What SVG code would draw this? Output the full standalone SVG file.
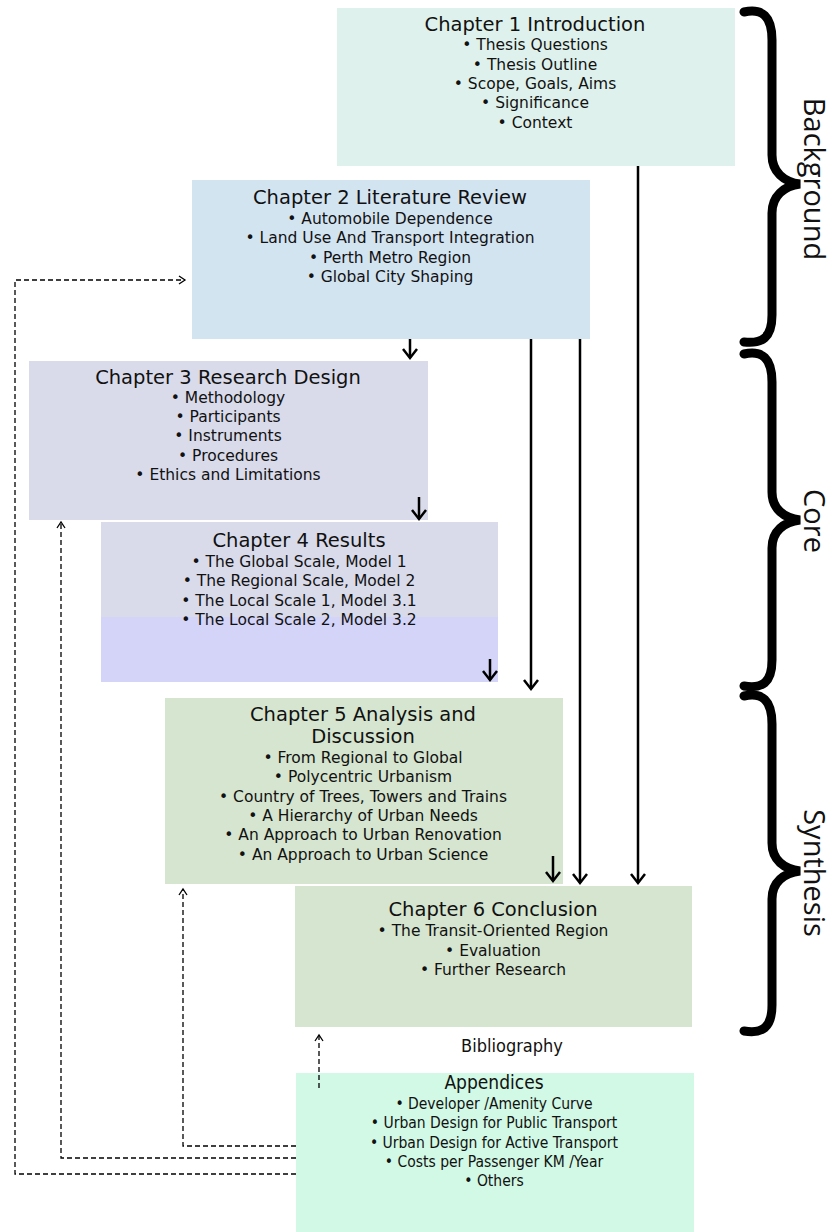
<svg xmlns="http://www.w3.org/2000/svg" width="836" height="1232" viewBox="0 0 836 1232">
<style>
.t{font-family:"DejaVu Sans",Verdana,sans-serif;font-size:19.5px;fill:#111;text-anchor:middle}
.i{font-family:"DejaVu Sans",Verdana,sans-serif;font-size:15.5px;fill:#111;text-anchor:middle}
.c{font-family:"DejaVu Sans Condensed","DejaVu Sans",sans-serif;fill:#111;text-anchor:middle}
.lbl{font-family:"Open Sans","Liberation Sans",sans-serif;font-size:29px;fill:#111;text-anchor:middle}
.solid{stroke:#000;stroke-width:2.5;fill:none}
.dash{stroke:#000;stroke-width:1.3;fill:none;stroke-dasharray:5 3}
.brace{stroke:#000;stroke-width:9;fill:none;stroke-linecap:round}
</style>
<defs>
<marker id="ah" markerUnits="userSpaceOnUse" markerWidth="20" markerHeight="20" refX="10" refY="8" orient="auto" viewBox="0 0 20 16">
<path d="M1,1 L10,8 L1,15" fill="none" stroke="#000" stroke-width="2.5"/>
</marker>
<marker id="dh" markerUnits="userSpaceOnUse" markerWidth="12" markerHeight="12" refX="7" refY="5" orient="auto" viewBox="0 0 12 10">
<path d="M1,1 L7,5 L1,9" fill="none" stroke="#000" stroke-width="1.3"/>
</marker>
</defs>
<rect width="836" height="1232" fill="#fff"/>

<g id="ch1">
<rect x="337" y="8" width="398" height="158" fill="#dff1ec"/>
<text class="t" x="535" y="31">Chapter 1 Introduction</text>
<text class="i" x="535" y="50">• Thesis Questions</text>
<text class="i" x="535" y="70">• Thesis Outline</text>
<text class="i" x="535" y="89">• Scope, Goals, Aims</text>
<text class="i" x="535" y="108">• Significance</text>
<text class="i" x="535" y="128">• Context</text>
</g>

<g id="ch2">
<rect x="192" y="180" width="398" height="159" fill="#d3e4f1"/>
<text class="t" x="390" y="204">Chapter 2 Literature Review</text>
<text class="i" x="390" y="224">• Automobile Dependence</text>
<text class="i" x="390" y="243">• Land Use And Transport Integration</text>
<text class="i" x="390" y="263">• Perth Metro Region</text>
<text class="i" x="390" y="282">• Global City Shaping</text>
</g>

<g id="ch3">
<rect x="29" y="361" width="399" height="159" fill="#d9dbeb"/>
<text class="t" x="228" y="384">Chapter 3 Research Design</text>
<text class="i" x="228" y="403">• Methodology</text>
<text class="i" x="228" y="422">• Participants</text>
<text class="i" x="228" y="441">• Instruments</text>
<text class="i" x="228" y="461">• Procedures</text>
<text class="i" x="228" y="480">• Ethics and Limitations</text>
</g>

<g id="ch4">
<rect x="101" y="522" width="397" height="95" fill="#d9dbeb"/>
<rect x="101" y="617" width="397" height="65" fill="#d3d4f8"/>
<text class="t" x="299" y="547">Chapter 4 Results</text>
<text class="i" x="299" y="567">• The Global Scale, Model 1</text>
<text class="i" x="299" y="586">• The Regional Scale, Model 2</text>
<text class="i" x="299" y="606">• The Local Scale 1, Model 3.1</text>
<text class="i" x="299" y="625">• The Local Scale 2, Model 3.2</text>
</g>

<g id="ch5">
<rect x="165" y="698" width="398" height="186" fill="#d5e5cf"/>
<text class="t" x="363" y="721">Chapter 5 Analysis and</text>
<text class="t" x="363" y="743">Discussion</text>
<text class="i" x="363" y="763">• From Regional to Global</text>
<text class="i" x="363" y="782">• Polycentric Urbanism</text>
<text class="i" x="363" y="802">• Country of Trees, Towers and Trains</text>
<text class="i" x="363" y="821">• A Hierarchy of Urban Needs</text>
<text class="i" x="363" y="840">• An Approach to Urban Renovation</text>
<text class="i" x="363" y="860">• An Approach to Urban Science</text>
</g>

<g id="ch6">
<rect x="295" y="886" width="397" height="141" fill="#d5e5cf"/>
<text class="t" x="493" y="916">Chapter 6 Conclusion</text>
<text class="i" x="493" y="936">• The Transit-Oriented Region</text>
<text class="i" x="493" y="956">• Evaluation</text>
<text class="i" x="493" y="975">• Further Research</text>
</g>

<g id="bibliography">
<text class="c" x="512" y="1052" font-size="18">Bibliography</text>
</g>

<g id="appendices">
<rect x="296" y="1073" width="398" height="159" fill="#d1f9e5"/>
<text class="c" x="494" y="1089" font-size="19">Appendices</text>
<text class="c" x="494" y="1109" font-size="15.5">• Developer /Amenity Curve</text>
<text class="c" x="494" y="1128" font-size="15.5">• Urban Design for Public Transport</text>
<text class="c" x="494" y="1148" font-size="15.5">• Urban Design for Active Transport</text>
<text class="c" x="494" y="1167" font-size="15.5">• Costs per Passenger KM /Year</text>
<text class="c" x="494" y="1186" font-size="15.5">• Others</text>
</g>

<g id="connectors">
<path class="solid" d="M638,166 V883" marker-end="url(#ah)"/>
<path class="solid" d="M580,339 V883" marker-end="url(#ah)"/>
<path class="solid" d="M531,339 V689" marker-end="url(#ah)"/>
<path class="solid" d="M410,339 V358" marker-end="url(#ah)"/>
<path class="solid" d="M419,497 V519" marker-end="url(#ah)"/>
<path class="solid" d="M490,659 V680" marker-end="url(#ah)"/>
<path class="solid" d="M553,856 V881" marker-end="url(#ah)"/>
<path class="dash" d="M296,1174 H15 V280 H185" marker-end="url(#dh)"/>
<path class="dash" d="M296,1158 H61 V522" marker-end="url(#dh)"/>
<path class="dash" d="M296,1146 H183 V889" marker-end="url(#dh)"/>
<path class="dash" d="M319,1088 V1035" marker-end="url(#dh)"/>
</g>

<g id="braces">
<path class="brace" d="M744,12 C762,8 772,16 772,40 L772,155 C772,172 784,182 800,184 C784,186 772,196 772,213 L772,315 C772,338 762,344 744,342"/>
<path class="brace" d="M744,354 C762,350 772,358 772,382 L772,492 C772,509 784,518 800,520 C784,522 772,531 772,548 L772,660 C772,683 762,689 744,686"/>
<path class="brace" d="M744,696 C762,692 772,700 772,724 L772,843 C772,860 784,869 800,871 C784,873 772,882 772,899 L772,1005 C772,1028 762,1034 744,1031"/>
</g>

<g id="labels">
<text class="lbl" transform="translate(804,179) rotate(90)">Background</text>
<text class="lbl" transform="translate(804,521) rotate(90)">Core</text>
<text class="lbl" transform="translate(804,873) rotate(90)">Synthesis</text>
</g>
</svg>
